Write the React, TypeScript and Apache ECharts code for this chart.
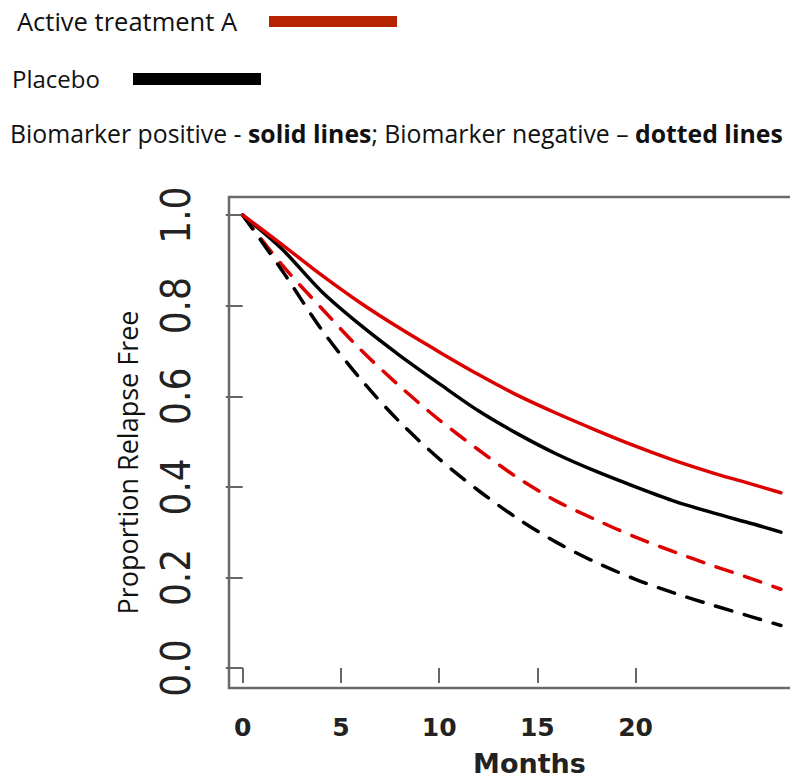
import React, { useEffect, useRef } from "react";
import * as echarts from "echarts";

const months = [0, 2, 4, 6, 8, 10, 12, 14, 16, 18, 20, 22, 24, 26, 27.4];
const activePositive = [1.0, 0.935, 0.868, 0.806, 0.75, 0.698, 0.648, 0.602, 0.562, 0.525, 0.49, 0.458, 0.43, 0.405, 0.387];
const placeboPositive = [1.0, 0.925, 0.832, 0.757, 0.69, 0.628, 0.568, 0.517, 0.472, 0.434, 0.4, 0.368, 0.342, 0.318, 0.3];
const activeNegative = [1.0, 0.89, 0.795, 0.703, 0.622, 0.548, 0.482, 0.42, 0.368, 0.327, 0.289, 0.256, 0.225, 0.196, 0.174];
const placeboNegative = [1.0, 0.878, 0.748, 0.638, 0.543, 0.462, 0.392, 0.33, 0.277, 0.233, 0.196, 0.165, 0.138, 0.112, 0.094];

const xTicks = [0, 5, 10, 15, 20];
const yTicks = [0, 0.2, 0.4, 0.6, 0.8, 1.0];

const RED = "#dd0000";
const BLACK = "#000000";

function pairs(vals: number[]) {
  return months.map((m, i) => [m, vals[i]]);
}

export default function App() {
  const ref = useRef<HTMLDivElement>(null);
  useEffect(() => {
    if (!ref.current) return;
    const chart = echarts.init(ref.current, null, { renderer: "svg" });
    const lineSeries = (name: string, vals: number[], color: string, dashed: boolean) => ({
      name,
      type: "line",
      data: pairs(vals),
      showSymbol: false,
      smooth: 0.3,
      lineStyle: {
        color,
        width: 3.5,
        type: dashed ? [17, 13] : "solid",
        cap: "round",
      },
      z: 3,
    });
    chart.setOption({
      animation: false,
      backgroundColor: "#ffffff",
      grid: {
        left: 229,
        top: 197,
        bottom: 92,
        right: 0,
        show: true,
        borderColor: "#6a6a6a",
        borderWidth: 2.5,
        backgroundColor: "transparent",
      },
      xAxis: {
        type: "value",
        min: -0.7,
        max: 29.9,
        name: "Months",
        nameLocation: "middle",
        nameGap: 62,
        nameTextStyle: {
          fontFamily: "DejaVu Sans",
          fontWeight: "bold",
          fontSize: 27,
          color: "#222",
        },
        axisLine: { show: false },
        splitLine: { show: false },
        axisTick: {
          show: true,
          customValues: xTicks,
          length: 15,
          lineStyle: { color: "#666", width: 2 },
        },
        axisLabel: {
          customValues: xTicks,
          fontFamily: "DejaVu Sans",
          fontWeight: "bold",
          fontSize: 25,
          color: "#222",
          margin: 27,
        },
      },
      yAxis: {
        type: "value",
        min: -0.044,
        max: 1.04,
        name: "Proportion Relapse Free",
        nameLocation: "middle",
        nameRotate: 90,
        nameGap: 88,
        nameTextStyle: {
          fontFamily: "Open Sans",
          fontSize: 27,
          color: "#111",
          padding: [0, 40, 0, 0],
        },
        axisLine: { show: false },
        splitLine: { show: false },
        axisTick: {
          show: true,
          customValues: yTicks,
          length: 17,
          lineStyle: { color: "#666", width: 2 },
        },
        axisLabel: {
          customValues: yTicks,
          formatter: (v: number) => v.toFixed(1),
          rotate: 90,
          fontFamily: "'DejaVu Sans Condensed', 'DejaVu Sans'",
          fontSize: 40,
          color: "#222",
          margin: 33,
        },
      },
      graphic: [
        {
          type: "text",
          left: 17,
          top: 8,
          style: {
            text: "Active treatment A",
            fontFamily: "Open Sans",
            fontSize: 25.5,
            fill: "#111",
          },
        },
        {
          type: "rect",
          shape: { x: 269, y: 16, width: 128, height: 11 },
          style: { fill: "#b52300" },
        },
        {
          type: "text",
          left: 12,
          top: 66,
          style: {
            text: "Placebo",
            fontFamily: "Open Sans",
            fontSize: 24,
            fill: "#111",
          },
        },
        {
          type: "rect",
          shape: { x: 133, y: 73, width: 128, height: 12 },
          style: { fill: "#000" },
        },
        {
          type: "text",
          left: 10,
          top: 120,
          style: {
            text: "{n|Biomarker positive - }{b|solid lines}{n|; Biomarker negative \u2013 }{b|dotted lines}",
            rich: {
              n: { fontFamily: "Open Sans", fontSize: 24.8, fill: "#111", fontWeight: "normal" },
              b: { fontFamily: "Open Sans", fontSize: 24.8, fill: "#111", fontWeight: "bold" },
            },
          },
        },
      ],
      series: [
        lineSeries("Active treatment A, biomarker negative", activeNegative, RED, true),
        lineSeries("Placebo, biomarker negative", placeboNegative, BLACK, true),
        lineSeries("Placebo, biomarker positive", placeboPositive, BLACK, false),
        lineSeries("Active treatment A, biomarker positive", activePositive, RED, false),
      ],
    });
    return () => chart.dispose();
  }, []);
  return (
    <div style={{ position: "absolute", left: 0, top: 0, width: 790, height: 782, overflow: "hidden" }}>
      <div ref={ref} style={{ width: 830, height: 782 }} />
    </div>
  );
}
